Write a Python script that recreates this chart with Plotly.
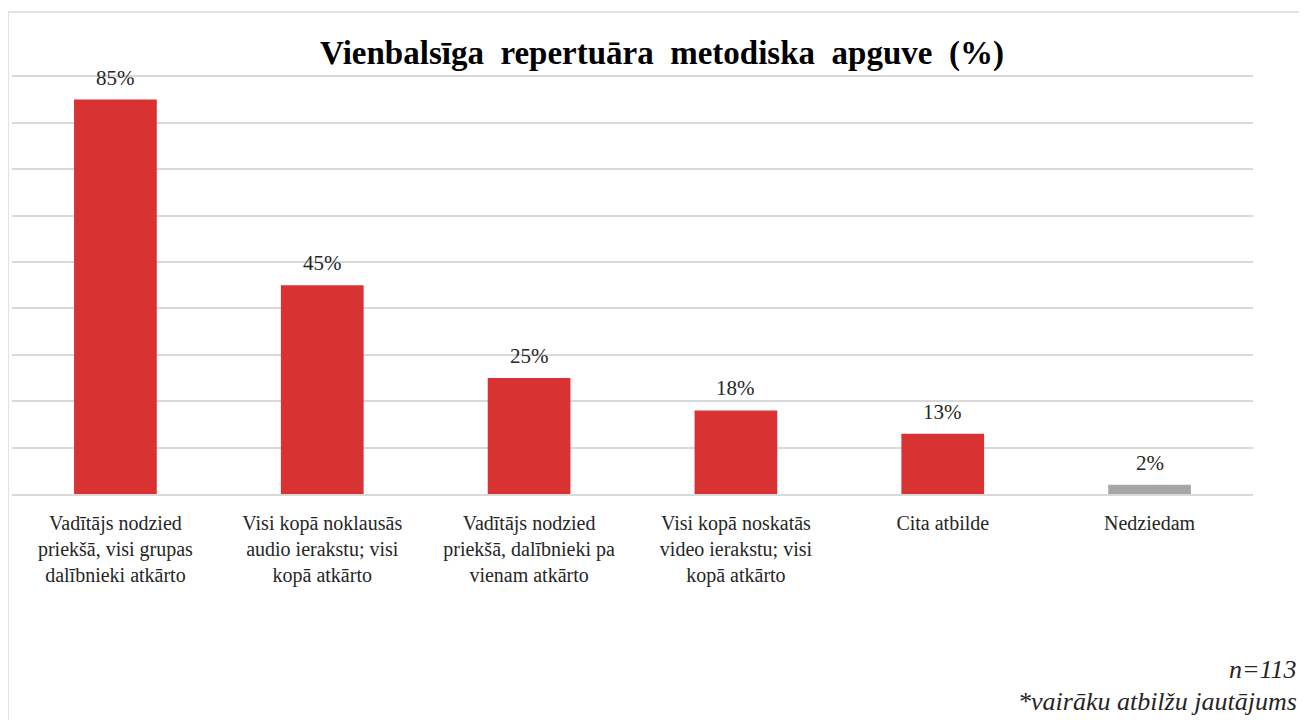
import plotly.graph_objects as go

# データ
categories = [
    "Vadītājs nodzied<br>priekšā, visi grupas<br>dalībnieki atkārto",
    "Visi kopā noklausās<br>audio ierakstu; visi<br>kopā atkārto",
    "Vadītājs nodzied<br>priekšā, dalībnieki pa<br>vienam atkārto",
    "Visi kopā noskatās<br>video ierakstu; visi<br>kopā atkārto",
    "Cita atbilde",
    "Nedziedam",
]
values = [85, 45, 25, 18, 13, 2]
bar_colors = ["#D93233", "#D93233", "#D93233", "#D93233", "#D93233", "#A6A6A6"]

font_name = "Liberation Serif"

# ページの余白(body 8px)を補正
W, H = 1299, 712
L, R, T, B = 4, 54, 66, 226
PW, PH = W - L - R, H - T - B
base_x, base_y = 8 + L, 8 + H - B   # 画面上のプロット左下


def px(sx):
    return (sx - base_x) / PW


def py(sy):
    return (base_y - sy) / PH


fig = go.Figure()
fig.add_trace(go.Bar(
    x=categories, y=values,
    marker=dict(color=bar_colors, line=dict(width=0)),
    width=0.4,
    hoverinfo="skip",
))

# データラベル
for c, v in zip(categories, values):
    fig.add_annotation(x=c, y=v, text=f"{v}%", showarrow=False,
                       yanchor="bottom", yshift=8,
                       font=dict(family="Times New Roman", size=21, color="#262626"))

# 注記
fig.add_annotation(x=px(1299), y=py(669), xref="paper", yref="paper", text="<i>n=113</i>",
                   showarrow=False, xanchor="right", yanchor="middle",
                   font=dict(family="serif", size=26, color="#262626"))
fig.add_annotation(x=px(1299), y=py(701), xref="paper", yref="paper",
                   text="<i>*vairāku atbilžu jautājums</i>",
                   showarrow=False, xanchor="right", yanchor="middle",
                   font=dict(family="serif", size=26, color="#262626"))

# 枠線
fig.add_shape(type="line", xref="paper", yref="paper", x0=px(8), x1=px(1320), y0=py(12), y1=py(12),
              line=dict(color="#D9D9D9", width=1.5))
fig.add_shape(type="line", xref="paper", yref="paper", x0=px(8), x1=px(8), y0=py(12), y1=py(730),
              line=dict(color="#D9D9D9", width=1.5))

fig.update_layout(
    width=W, height=H,
    margin=dict(l=L, r=R, t=T, b=B),
    paper_bgcolor="white", plot_bgcolor="white",
    showlegend=False,
    font=dict(family=font_name),
    title=dict(text="<b>Vienbalsīga&nbsp; repertuāra&nbsp; metodiska&nbsp; apguve&nbsp; (%)</b>",
               x=(662 - 8) / W, xanchor="center", y=1 - (52 - 8) / H, yanchor="middle",
               font=dict(family=font_name, size=33, color="black")),
    xaxis=dict(showline=True, linecolor="#D9D9D9", linewidth=1.5,
               tickfont=dict(family=font_name, size=20, color="#262626"),
               ticks="", ticklabelstandoff=10, fixedrange=True),
    yaxis=dict(range=[0, 90.5], dtick=10, showticklabels=False,
               gridcolor="#D9D9D9", gridwidth=1.5, zeroline=False, fixedrange=True),
)
fig.write_html("out.html")
